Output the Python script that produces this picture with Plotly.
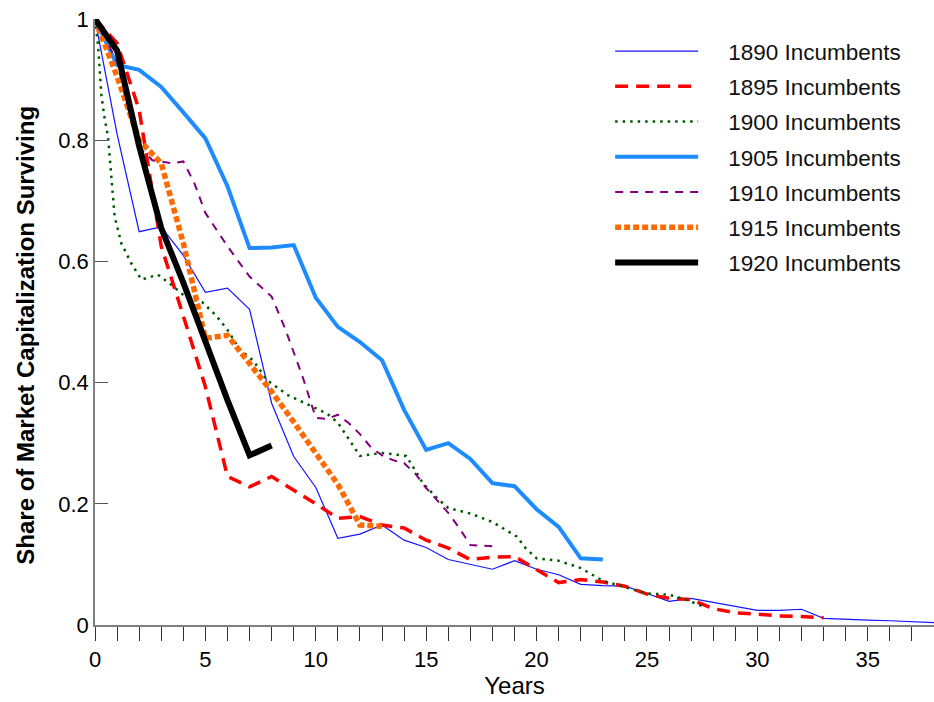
import plotly.graph_objects as go

# ---------------- data ----------------
names = ["1890 Incumbents", "1895 Incumbents", "1900 Incumbents", "1905 Incumbents",
         "1910 Incumbents", "1915 Incumbents", "1920 Incumbents"]

years_1890 = list(range(0, 39))
share_1890 = [1.0, 0.81, 0.649, 0.657, 0.61, 0.549, 0.556, 0.521, 0.366, 0.278,
              0.227, 0.143, 0.150, 0.165, 0.140, 0.128, 0.108, 0.100, 0.092, 0.106,
              0.092, 0.083, 0.067, 0.065, 0.064, 0.052, 0.039, 0.044, 0.037, 0.030,
              0.024, 0.024, 0.026, 0.011, 0.009, 0.008, 0.007, 0.006, 0.004]

years_1895 = list(range(0, 34))
share_1895 = [1.0, 0.96, 0.85, 0.625, 0.51, 0.393, 0.245, 0.228, 0.245, 0.223,
              0.200, 0.176, 0.179, 0.165, 0.160, 0.140, 0.127, 0.108, 0.112, 0.113,
              0.092, 0.070, 0.075, 0.071, 0.064, 0.051, 0.044, 0.042, 0.027, 0.020,
              0.018, 0.015, 0.014, 0.012]

years_1900 = [0, 0.14, 0.29, 0.44, 0.59, 0.74, 0.89, 1.19, 1.64, 2.1, 2.85, 3.5,
              4.15, 4.85, 5.5, 6.0, 6.55, 7.15, 7.8, 8.7, 9.7, 10.5, 11.0, 12.0,
              13.0, 14.1, 14.85, 15.5, 16.0, 17.0, 18.0, 19.1, 19.5, 20.0, 21.0,
              22.0, 23.0, 24.0, 25.0, 26.0, 26.6, 27.6]
share_1900 = [1.0, 0.956, 0.874, 0.835, 0.806, 0.74, 0.674, 0.63, 0.597, 0.57, 0.578,
              0.56, 0.54, 0.533, 0.51, 0.487, 0.455, 0.437, 0.404, 0.38, 0.363,
              0.349, 0.334, 0.279, 0.284, 0.279, 0.234, 0.209, 0.193, 0.184, 0.170,
              0.146, 0.127, 0.110, 0.106, 0.094, 0.073, 0.063, 0.052, 0.050, 0.044,
              0.030]

years_1905 = list(range(0, 24))
share_1905 = [1.0, 0.924, 0.916, 0.888, 0.846, 0.803, 0.724, 0.622, 0.623, 0.627,
              0.540, 0.492, 0.467, 0.437, 0.355, 0.289, 0.300, 0.274, 0.234, 0.229,
              0.191, 0.162, 0.110, 0.108]

years_1910 = [0, 1, 1.5, 2, 2.6, 3, 3.5, 4, 4.5, 5, 5.5, 6, 7, 8, 8.6, 9, 9.4, 10,
              10.5, 11, 11.5, 12, 12.5, 13, 13.5, 14, 14.5, 15, 15.5, 16, 16.5, 17, 18]
share_1910 = [1.0, 0.93, 0.85, 0.789, 0.767, 0.765, 0.762, 0.765, 0.729, 0.68, 0.652,
              0.625, 0.575, 0.542, 0.49, 0.45, 0.41, 0.342, 0.340, 0.347, 0.333,
              0.315, 0.293, 0.280, 0.272, 0.267, 0.250, 0.226, 0.205, 0.185, 0.160,
              0.132, 0.130]

years_1915 = list(range(0, 14))
share_1915 = [1.0, 0.905, 0.80, 0.762, 0.63, 0.473, 0.478, 0.432, 0.385, 0.335,
              0.284, 0.232, 0.165, 0.163]

years_1920 = list(range(0, 9))
share_1920 = [1.0, 0.948, 0.79, 0.655, 0.565, 0.465, 0.371, 0.28, 0.296]

x_ticks = list(range(0, 39))
x_tick_labels = [str(v) if v % 5 == 0 else "" for v in x_ticks]
y_ticks = [0, 0.2, 0.4, 0.6, 0.8, 1]
y_tick_labels = ["0", "0.2", "0.4", "0.6", "0.8", "1"]

series = [
    (years_1890, share_1890, dict(color="#1414FF", width=1.2, dash="solid")),
    (years_1895, share_1895, dict(color="#FF0000", width=3.5, dash="13px,8px")),
    (years_1900, share_1900, dict(color="#005A00", width=2.5, dash="2.5px,5px")),
    (years_1905, share_1905, dict(color="#1E8CFF", width=4, dash="solid")),
    (years_1910, share_1910, dict(color="#800080", width=2, dash="8px,7px")),
    (years_1915, share_1915, dict(color="#FF6A00", width=5.5, dash="6px,3px")),
    (years_1920, share_1920, dict(color="#000000", width=6, dash="solid")),
]

PAD = "\u00a0" * 4  # gap between legend swatch and its label

fig = go.Figure()
for name, (xs, ys, ln) in zip(names, series):
    fig.add_trace(go.Scatter(x=xs, y=ys, mode="lines", name=PAD + name, line=ln,
                             legendgroup=name))

FONT = "Liberation Sans, Arial, sans-serif"
tick_font = dict(family=FONT, size=22, color="black")

fig.update_layout(
    width=934, height=702,
    margin=dict(l=95, r=0, t=19, b=77),
    plot_bgcolor="white", paper_bgcolor="white",
    font=dict(family=FONT, size=22, color="black"),
    showlegend=True,
    legend=dict(x=0.614, y=0.982, xanchor="left", yanchor="top",
                font=dict(family=FONT, size=22.5, color="#111"),
                tracegroupgap=3, itemwidth=83, bgcolor="rgba(0,0,0,0)"),
    xaxis=dict(range=[0, 38], tickmode="array", tickvals=x_ticks, ticktext=x_tick_labels,
               ticks="outside", ticklen=14, tickwidth=1.3, tickcolor="#333",
               showline=True, linecolor="#808080", linewidth=1.5,
               showgrid=False, zeroline=False, tickfont=tick_font,
               title=dict(text="Years", font=dict(family=FONT, size=24), standoff=5)),
    yaxis=dict(range=[0, 1], tickmode="array", tickvals=y_ticks, ticktext=y_tick_labels,
               ticks="inside", ticklen=13, tickwidth=1.3, tickcolor="#555",
               showline=True, linecolor="#808080", linewidth=1.5,
               showgrid=False, zeroline=False, tickfont=tick_font,
               title=dict(text="<b>Share of Market Capitalization Surviving" + "\u00a0" * 4 + "</b>",
                          font=dict(family=FONT, size=24), standoff=17)),
)

fig.write_html("out.html")
